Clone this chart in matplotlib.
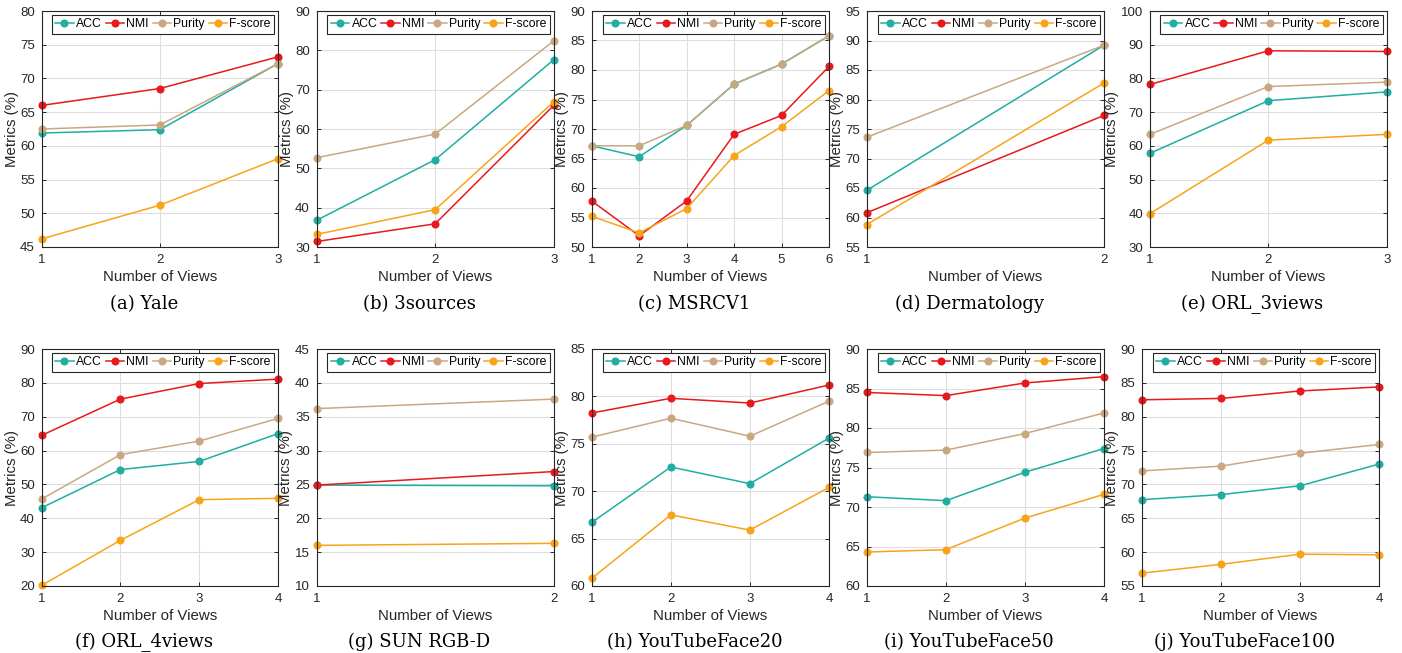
import matplotlib
matplotlib.use("Agg")
import matplotlib.pyplot as plt
import numpy as np

# ---------------- data ----------------
titles = ["(a) Yale", "(b) 3sources", "(c) MSRCV1", "(d) Dermatology", "(e) ORL_3views",
          "(f) ORL_4views", "(g) SUN RGB-D", "(h) YouTubeFace20", "(i) YouTubeFace50",
          "(j) YouTubeFace100"]
series_names = ["ACC", "NMI", "Purity", "F-score"]

yale_acc = [61.9, 62.4, 72.2]
yale_nmi = [66.0, 68.5, 73.2]
yale_pur = [62.5, 63.1, 72.2]
yale_f = [46.2, 51.2, 58.1]

src3_acc = [36.8, 52.2, 77.6]
src3_nmi = [31.4, 35.9, 66.0]
src3_pur = [52.7, 58.7, 82.4]
src3_f = [33.2, 39.5, 66.9]

msrc_acc = [67.15, 65.3, 70.6, 77.6, 81.0, 85.8]
msrc_nmi = [57.8, 51.9, 57.8, 69.1, 72.3, 80.6]
msrc_pur = [67.15, 67.15, 70.6, 77.6, 81.0, 85.8]
msrc_f = [55.2, 52.4, 56.5, 65.5, 70.4, 76.5]

derm_acc = [64.6, 89.2]
derm_nmi = [60.8, 77.3]
derm_pur = [73.6, 89.2]
derm_f = [58.8, 82.8]

orl3_acc = [57.8, 73.4, 76.0]
orl3_nmi = [78.2, 88.2, 88.0]
orl3_pur = [63.4, 77.6, 78.9]
orl3_f = [39.9, 61.7, 63.4]

orl4_acc = [43.1, 54.4, 56.8, 65.0]
orl4_nmi = [64.5, 75.2, 79.8, 81.1]
orl4_pur = [45.7, 58.8, 62.8, 69.5]
orl4_f = [20.2, 33.5, 45.5, 45.9]

sun_acc = [24.9, 24.8]
sun_nmi = [24.9, 26.9]
sun_pur = [36.2, 37.6]
sun_f = [16.0, 16.3]

ytf20_acc = [66.7, 72.55, 70.8, 75.6]
ytf20_nmi = [78.25, 79.8, 79.3, 81.2]
ytf20_pur = [75.7, 77.7, 75.8, 79.5]
ytf20_f = [60.8, 67.5, 65.9, 70.4]

ytf50_acc = [71.3, 70.8, 74.4, 77.4]
ytf50_nmi = [84.5, 84.1, 85.7, 86.5]
ytf50_pur = [76.9, 77.2, 79.3, 81.9]
ytf50_f = [64.3, 64.6, 68.6, 71.6]

ytf100_acc = [67.75, 68.5, 69.8, 73.0]
ytf100_nmi = [82.5, 82.7, 83.8, 84.4]
ytf100_pur = [72.0, 72.7, 74.6, 75.9]
ytf100_f = [56.9, 58.2, 59.7, 59.6]

all_data = [
    (yale_acc, yale_nmi, yale_pur, yale_f),
    (src3_acc, src3_nmi, src3_pur, src3_f),
    (msrc_acc, msrc_nmi, msrc_pur, msrc_f),
    (derm_acc, derm_nmi, derm_pur, derm_f),
    (orl3_acc, orl3_nmi, orl3_pur, orl3_f),
    (orl4_acc, orl4_nmi, orl4_pur, orl4_f),
    (sun_acc, sun_nmi, sun_pur, sun_f),
    (ytf20_acc, ytf20_nmi, ytf20_pur, ytf20_f),
    (ytf50_acc, ytf50_nmi, ytf50_pur, ytf50_f),
    (ytf100_acc, ytf100_nmi, ytf100_pur, ytf100_f),
]
y_ranges = [(45, 80, 5), (30, 90, 10), (50, 90, 5), (55, 95, 5), (30, 100, 10),
            (20, 90, 10), (10, 45, 5), (60, 85, 5), (60, 90, 5), (55, 90, 5)]

colors = ["#20ADA2", "#E8191C", "#C9A881", "#F7A41A"]

# ---------------- layout (pixels) ----------------
W, H = 1402, 653
fig = plt.figure(figsize=(W / 100, H / 100), dpi=100)

col_lr_top = [(41.7, 278), (316.7, 553.7), (591.7, 829), (866.7, 1104), (1150, 1386.7)]
col_lr_bot = [(41.7, 278), (316.7, 553.7), (591.7, 829), (866.7, 1104), (1142, 1379)]
rows_tb = [(11, 247), (349, 586)]

plt.rcParams['font.family'] = ['Liberation Sans', 'DejaVu Sans']
tick_color = "#262626"

for i, (title, data, (ylo, yhi, ystep)) in enumerate(zip(titles, all_data, y_ranges)):
    r, c = divmod(i, 5)
    l, rr = (col_lr_top if r == 0 else col_lr_bot)[c]
    t, b = rows_tb[r]
    ax = fig.add_axes([l / W, (H - b) / H, (rr - l) / W, (b - t) / H])
    n = len(data[0])
    x = np.arange(1, n + 1)
    for name, vals, col in zip(series_names, data, colors):
        ax.plot(x, vals, color=col, lw=1.1, marker='o', ms=4.8, label=name, zorder=3,
                clip_on=False)
    ax.set_xlim(1, n)
    ax.set_ylim(ylo, yhi)
    ax.set_xticks(x)
    ax.set_yticks(np.arange(ylo, yhi + 0.1, ystep))
    ax.grid(True, color="#dedede", lw=0.8, zorder=0)
    ax.tick_params(direction='in', length=3, width=0.7, labelsize=9.5, colors=tick_color,
                   top=True, right=True, pad=5)
    for s in ax.spines.values():
        s.set_color(tick_color)
        s.set_linewidth(0.8)
        s.set_zorder(4)
    ax.set_xlabel("Number of Views", fontsize=10.8, color=tick_color, labelpad=3)
    ax.set_ylabel("Metrics (%)", fontsize=10.8, color=tick_color, labelpad=1)
    leg = ax.legend(loc='upper right', ncol=4, fontsize=8.8, handlelength=1.5,
                    handletextpad=0.2, columnspacing=0.3, borderpad=0.3,
                    borderaxespad=0.3, fancybox=False, framealpha=1, edgecolor=tick_color)
    leg.get_frame().set_linewidth(0.8)
    leg.set_zorder(5)
    cx = (l + rr) / 2 - 16
    cy = 304 if r == 0 else 642
    fig.text(cx / W, (H - cy) / H, title, ha='center', va='center',
             fontsize=13, family='DejaVu Serif')

fig.savefig("out.png", dpi=100)
